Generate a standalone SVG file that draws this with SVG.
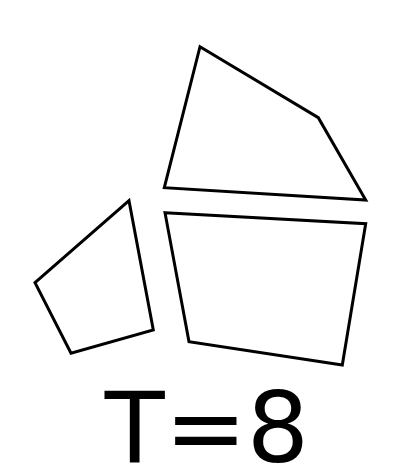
<svg xmlns="http://www.w3.org/2000/svg" width="413" height="472" viewBox="0 0 413 472">
<style>
.p{fill:#fff;stroke:#000;stroke-width:3;stroke-linejoin:miter}
.t{font-family:"DejaVu Sans",sans-serif;font-size:98px;fill:#000}
</style>
<rect width="413" height="472" fill="#fff"/>
<g id="top"><polygon class="p" points="200,46.7 318.3,117.7 365.7,200 164.3,187.7"/></g>
<g id="left"><polygon class="p" points="129,200.7 153.3,330 71,353.3 35,282.7"/></g>
<g id="right"><polygon class="p" points="165,212.7 365.7,223.7 342.3,365 189,341.7"/></g>
<text class="t" x="207" y="462" text-anchor="middle">T=8</text>
</svg>
